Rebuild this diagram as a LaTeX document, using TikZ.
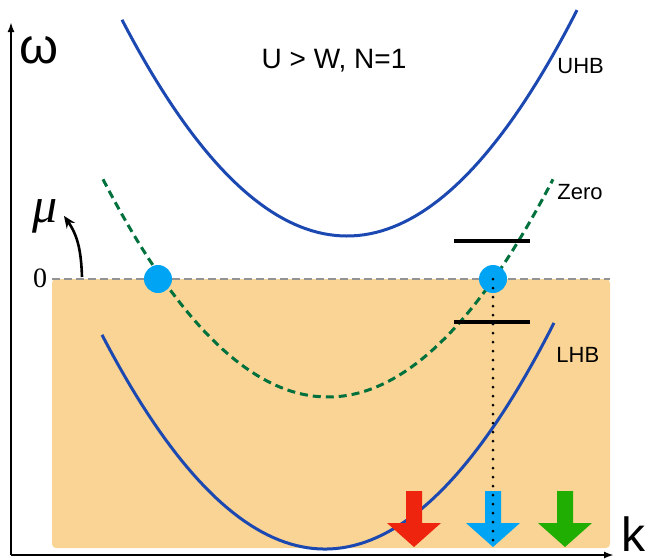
\documentclass[tikz,border=0pt]{standalone}
\usepackage{fontspec}
\setmainfont{Liberation Sans}
\newfontfamily\serifzero{Liberation Serif}
\usepackage{tikz}
\usetikzlibrary{arrows.meta}
\usepackage{xcolor}
\definecolor{bandblue}{RGB}{28,72,178}
\definecolor{zerogreen}{RGB}{0,112,60}
\definecolor{filledorange}{RGB}{250,212,148}
\definecolor{dotblue}{RGB}{0,164,245}
\definecolor{spinred}{RGB}{238,36,14}
\definecolor{spingreen}{RGB}{32,174,2}

\begin{document}
\begin{tikzpicture}[x=0.5pt,y=-0.5pt,
  band/.style={draw=bandblue,line width=1.5pt},
  zeroband/.style={draw=zerogreen,line width=1.5pt,dash pattern=on 4pt off 2.5pt},
  dot/.style={circle,fill=dotblue,minimum size=14pt,inner sep=0pt},
  level/.style={line width=2pt},
  axis/.style={line width=1pt,-{Latex[length=5pt,width=3.5pt]}},
  lbl/.style={anchor=base west,font=\fontsize{11}{13}\selectfont}]
  \useasboundingbox (0,0) rectangle (653,558);
  \fill[filledorange,rounded corners=2pt] (52,279) rectangle (610,548);
  \draw[gray!85,line width=1.2pt,dash pattern=on 4pt off 2pt] (52,279) -- (610,279);
  \coordinate (origin) at (11,555);
  \coordinate (wtop) at (11,22);
  \coordinate (kend) at (614,555);
  \draw[axis] (origin) -- (wtop);
  \draw[axis] (origin) -- (kend);
  \node[anchor=base west,inner sep=0pt,font=\fontsize{25}{28}\selectfont] (omega) at (19,63) {ω};
  \node[anchor=base west,inner sep=0pt,font=\fontsize{24}{28}\selectfont] (kaxis) at (621,551) {k};
  \node[anchor=base,inner sep=0pt,font=\fontsize{14}{16}\selectfont\serifzero] (zero) at (40,287) {0};
  \node[anchor=base,inner sep=3pt,font=\fontsize{25}{28}\selectfont\serifzero\itshape] (mu) at (45,222) {μ};
  \coordinate (mufoot) at (82,277);
  \draw[line width=1.3pt,-{Stealth[length=6pt,width=5pt]}] (mufoot) to[out=92,in=-55] (mu.east);
  \draw[band] plot[domain=122:577,samples=80] (\x,{236-42.7*((\x-347)/100)^2});
  \draw[zeroband] plot[domain=103:553,samples=80] (\x,{397-43*((\x-328)/100)^2});
  \draw[band] plot[domain=102:554,samples=80] (\x,{549-43.1*((\x-328)/100)^2-0.0265*(\x-328)});
  \draw[level] (454,241) -- (530,241);
  \draw[level] (454,322) -- (530,322);
  \foreach \x/\col/\name in {414/spinred/red,493/dotblue/blue,565/spingreen/green} {
    \fill[\col] (\x-8,491) -- (\x+8,491) -- (\x+8,523) -- (\x+27,523)
      -- (\x,547) -- (\x-27,523) -- (\x-8,523) -- cycle;
    \coordinate (tip-\name) at (\x,545);
  }
  \node[dot] (dotL) at (158,279) {};
  \node[dot] (dotR) at (493,279) {};
  \draw[line width=1.5pt,line cap=round,dash pattern=on 0pt off 4.5pt] (dotR.center) -- (tip-blue);
  \node[anchor=base,inner sep=0pt,font=\fontsize{14}{16}\selectfont] (title) at (334,68) {U > W, N=1};
  \node[lbl,inner sep=0pt] (uhb) at (557,73) {UHB};
  \node[lbl,inner sep=0pt] (zerolbl) at (557,199) {Zero};
  \node[lbl,inner sep=0pt] (lhb) at (556,362) {LHB};
\end{tikzpicture}
\end{document}
